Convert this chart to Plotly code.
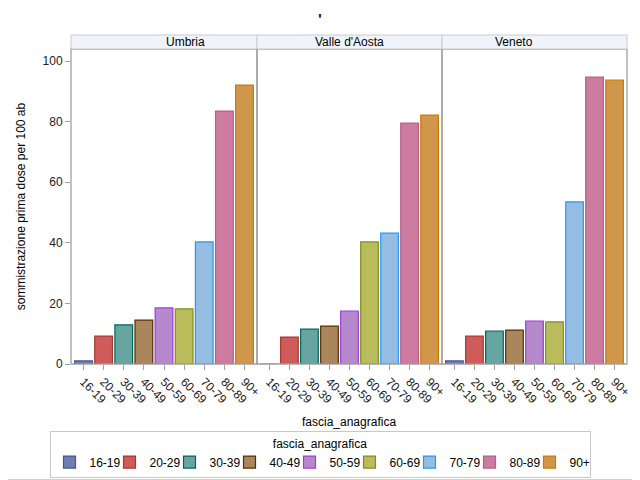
import plotly.graph_objects as go
from plotly.subplots import make_subplots

regions = ["Umbria", "Valle d'Aosta", "Veneto"]
categories = ["16-19", "20-29", "30-39", "40-49", "50-59", "60-69", "70-79", "80-89", "90+"]
values = {
    "Umbria":        [1.0, 9.2, 12.9, 14.5, 18.5, 18.2, 40.3, 83.5, 92.1],
    "Valle d'Aosta": [0.0, 8.9, 11.5, 12.5, 17.5, 40.3, 43.2, 79.5, 82.2],
    "Veneto":        [1.0, 9.2, 10.9, 11.2, 14.2, 13.9, 53.5, 94.7, 93.7],
}
fills = ["#6F7EB3", "#D05B5B", "#66A5A0", "#A9865B", "#B689CD", "#BABC5C", "#94BDE1", "#CD7BA1", "#CF974B"]
lines = ["#445694", "#A23A2E", "#01665E", "#543005", "#9D3CDB", "#7F8E1F", "#2597FA", "#B26084", "#D17800"]

# page body has an 8px margin, so the figure is laid out in page coords minus OFF
OFF = 8
W, H = 640 - OFF, 480 - OFF
L, T = 71 - OFF, 35 - OFF
R = W - (627 - OFF)
B = H - (364 - OFF)
pw = W - L - R
ph = H - T - B
strip_h = 14
ytop = 1 - strip_h / ph
d1 = (257 - 71) / pw
d2 = (442 - 71) / pw

def px_x(page_x):
    return (page_x - OFF - L) / pw

def px_y(page_y):
    return (H - B - (page_y - OFF)) / ph

fig = make_subplots(rows=1, cols=3, shared_yaxes=True, horizontal_spacing=0)
font = "Liberation Sans, Arial, sans-serif"

for ci, cat in enumerate(categories):
    for ri, reg in enumerate(regions):
        fig.add_trace(go.Bar(
            x=[cat], y=[values[reg][ci]], name=cat, legendgroup=cat,
            showlegend=(ri == 0),
            marker=dict(color=fills[ci], line=dict(color=lines[ci], width=1.2)),
            width=0.88,
        ), row=1, col=ri + 1)

domains = [[0, d1], [d1, d2], [d2, 1]]
for i in range(3):
    xa = "xaxis" if i == 0 else f"xaxis{i+1}"
    fig.layout[xa].update(
        domain=domains[i], categoryorder="array", categoryarray=categories,
        range=[-0.62, 8.62], tickangle=45, ticks="outside", ticklen=5,
        tickcolor="#A0A0A0", showline=False, showgrid=False,
        tickfont=dict(size=12, color="#222222", family=font),
    )
    ya = "yaxis" if i == 0 else f"yaxis{i+1}"
    fig.layout[ya].update(domain=[0, ytop], range=[0, 104], showgrid=False, zeroline=False)
    x0, x1 = domains[i]
    fig.add_shape(type="rect", xref="paper", yref="paper", x0=x0, x1=x1, y0=0, y1=ytop,
                  line=dict(color="#A0A0A0", width=1.3), fillcolor="rgba(0,0,0,0)", layer="above")
    fig.add_shape(type="rect", xref="paper", yref="paper", x0=x0, x1=x1, y0=ytop, y1=1,
                  line=dict(color="#C8CCD0", width=1), fillcolor="#F0F4FA")
    fig.add_annotation(x=(x0 + x1) / 2, y=(ytop + 1) / 2, xref="paper", yref="paper",
                       yanchor="middle", text=regions[i], showarrow=False,
                       font=dict(size=12, color="#000", family=font))

fig.layout.yaxis.update(ticks="outside", ticklen=5, tickcolor="#A0A0A0",
                        tickvals=[0, 20, 40, 60, 80, 100],
                        tickfont=dict(size=12, color="#222222", family=font),
                        title=dict(text="sommistrazione prima dose per 100 ab",
                                   font=dict(size=12, color="#000", family=font), standoff=14))

fig.add_annotation(x=0.5, y=px_y(422), xref="paper", yref="paper",
                   yanchor="middle", text="fascia_anagrafica", showarrow=False,
                   font=dict(size=12, color="#000", family=font))

# outer border (right and bottom edges visible)
fig.add_shape(type="line", xref="paper", yref="paper", x0=px_x(639.5), x1=px_x(639.5),
              y0=px_y(479.5), y1=px_y(0), line=dict(color="#D0D0D0", width=1))
fig.add_shape(type="line", xref="paper", yref="paper", x0=px_x(0), x1=px_x(639.5),
              y0=px_y(479.5), y1=px_y(479.5), line=dict(color="#D0D0D0", width=1))

fig.update_layout(
    width=W, height=H, margin=dict(l=L, r=R, t=T, b=B, autoexpand=False),
    paper_bgcolor="white", plot_bgcolor="white",
    barmode="overlay", bargap=0.1,
    font=dict(family=font, size=12, color="#000"),
    title=dict(text="<b>'</b>", x=(320 - OFF) / W, xref="container", y=1 - (19 - OFF) / H,
               xanchor="center", yanchor="middle",
               font=dict(size=14, color="#000", family=font)),
    legend=dict(orientation="h", x=px_x(320), xanchor="center",
                y=px_y(431), yanchor="top",
                bordercolor="#C8C8C8", borderwidth=1, bgcolor="white",
                title=dict(text="fascia_anagrafica", side="top center",
                           font=dict(size=12, color="#000", family=font)),
                font=dict(size=12, color="#000", family=font),
                itemwidth=30, entrywidth=15, entrywidthmode="pixels", tracegroupgap=0),
)

fig.write_html("out.html")
